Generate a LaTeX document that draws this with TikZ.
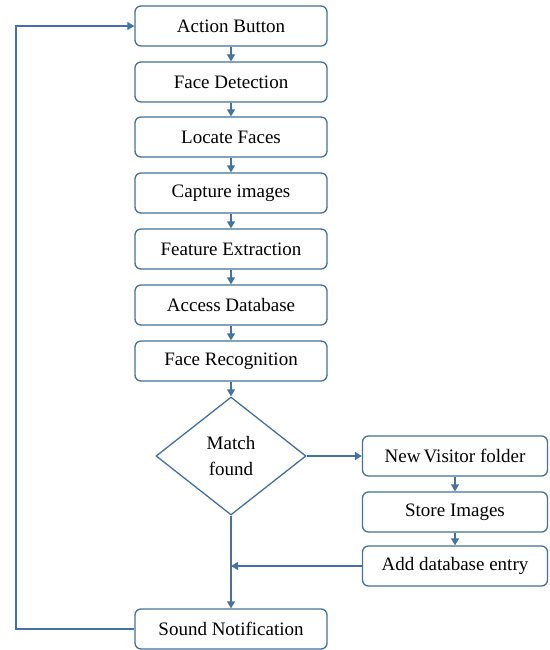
\documentclass[tikz,border=0pt]{standalone}
\usepackage{fontspec}
\setmainfont{Liberation Serif}
\usetikzlibrary{arrows.meta,shapes.geometric}
\definecolor{lineblue}{HTML}{4472A8}
\definecolor{boxblue}{HTML}{41719C}
\tikzset{
  flowbox/.style={draw=boxblue, line width=1.3pt, rounded corners=6pt, fill=white,
    minimum width=192pt, minimum height=40pt, inner sep=0pt, font=\fontsize{19}{22}\selectfont},
  sidebox/.style={flowbox, minimum width=185pt},
  decision/.style={draw=boxblue, line width=1.3pt, diamond, aspect=1.27, fill=white,
    minimum width=150pt, minimum height=118pt, inner sep=0pt, align=center, font=\fontsize{19}{26}\selectfont},
  conn/.style={draw=lineblue, line width=1.3pt, -{Triangle[width=8pt,length=7pt]}}
}
\begin{document}
\begin{tikzpicture}[x=1pt,y=-1pt]
\useasboundingbox (0,0) rectangle (549,650);
\node[flowbox] (ab) at (231,26) {Action Button};
\node[flowbox] (fd) at (231,82) {Face Detection};
\node[flowbox] (lf) at (231,137) {Locate Faces};
\node[flowbox] (ci) at (231,193) {Capture images};
\node[flowbox] (fe) at (231,249) {Feature Extraction};
\node[flowbox] (ad) at (231,305) {Access Database};
\node[flowbox] (fr) at (231,361) {Face Recognition};
\node[decision] (mf) at (231,456) {Match\\found};
\node[sidebox] (nv) at (455,456) {New\,Visitor folder};
\node[sidebox] (si) at (455,512) {Store Images};
\node[sidebox] (de) at (455,566) {Add database entry};
\node[flowbox] (sn) at (231,629) {Sound Notification};
\coordinate (j) at (231,566);
\coordinate (l1) at (16,629);
\coordinate (l2) at (16,26);
\draw[conn] (ab) -- (fd);
\draw[conn] (fd) -- (lf);
\draw[conn] (lf) -- (ci);
\draw[conn] (ci) -- (fe);
\draw[conn] (fe) -- (ad);
\draw[conn] (ad) -- (fr);
\draw[conn] (fr) -- (mf);
\draw[conn] (mf) -- (nv);
\draw[conn] (nv) -- (si);
\draw[conn] (si) -- (de);
\draw[conn] (de) -- (j);
\draw[conn] (mf.south) -- (sn);
\draw[conn] (sn.west) -- (l1) -- (l2) -- (ab.west);
\end{tikzpicture}
\end{document}
